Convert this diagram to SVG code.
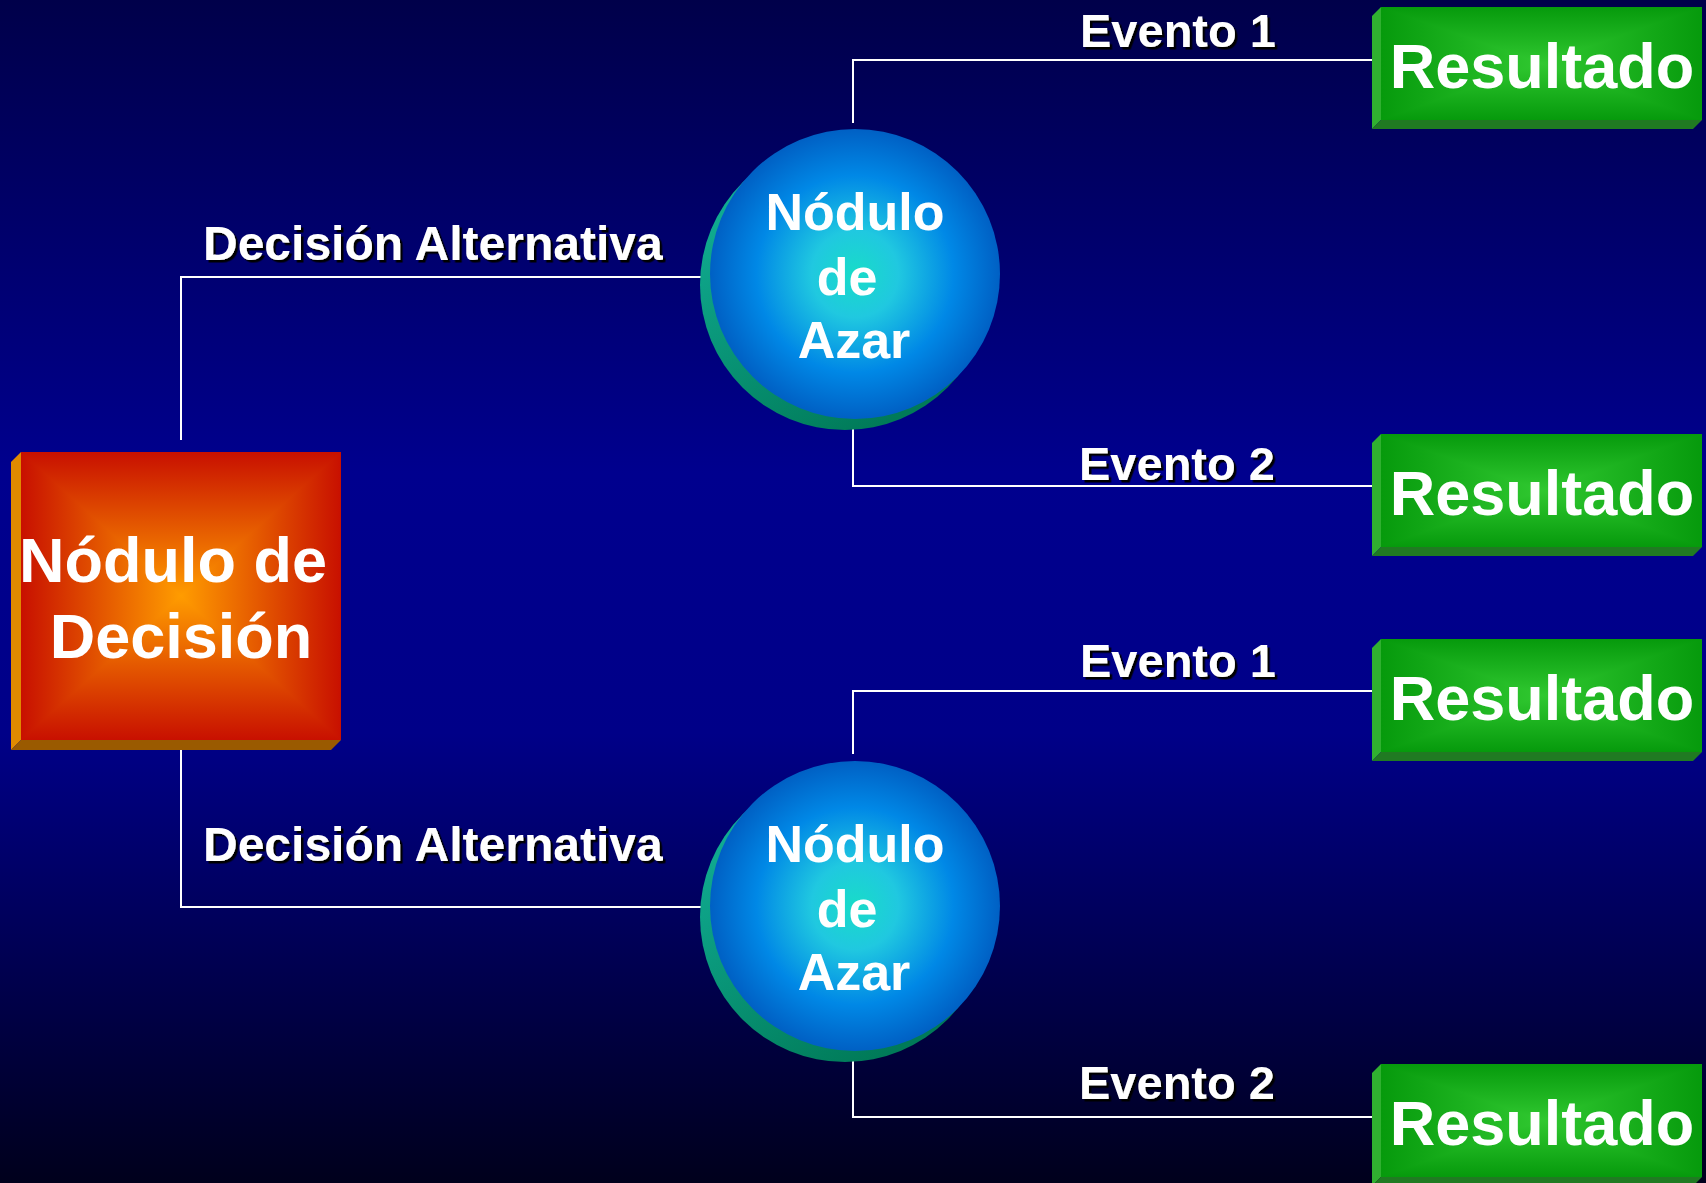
<svg xmlns="http://www.w3.org/2000/svg" width="1706" height="1183" viewBox="0 0 1706 1183">
<defs>
<linearGradient id="bg" x1="0" y1="0" x2="0" y2="1">
<stop offset="0" stop-color="#00004a"/>
<stop offset="0.4" stop-color="#00008e"/>
<stop offset="0.62" stop-color="#000088"/>
<stop offset="1" stop-color="#00001c"/>
</linearGradient>
<linearGradient id="dT" gradientUnits="userSpaceOnUse" x1="0" y1="452" x2="0" y2="596"><stop offset="0" stop-color="#c81000"/><stop offset="1" stop-color="#ff9c00"/></linearGradient>
<linearGradient id="dB" gradientUnits="userSpaceOnUse" x1="0" y1="740" x2="0" y2="596"><stop offset="0" stop-color="#c81000"/><stop offset="1" stop-color="#ff9c00"/></linearGradient>
<linearGradient id="dL" gradientUnits="userSpaceOnUse" x1="21" y1="0" x2="181" y2="0"><stop offset="0" stop-color="#c81000"/><stop offset="1" stop-color="#ff9c00"/></linearGradient>
<linearGradient id="dR" gradientUnits="userSpaceOnUse" x1="341" y1="0" x2="181" y2="0"><stop offset="0" stop-color="#c81000"/><stop offset="1" stop-color="#ff9c00"/></linearGradient>
<linearGradient id="gV" x1="0" y1="0" x2="0" y2="1"><stop offset="0" stop-color="#069a0c"/><stop offset="1" stop-color="#30c830"/></linearGradient>
<linearGradient id="gV2" x1="0" y1="1" x2="0" y2="0"><stop offset="0" stop-color="#069a0c"/><stop offset="1" stop-color="#30c830"/></linearGradient>
<linearGradient id="gH" x1="0" y1="0" x2="1" y2="0"><stop offset="0" stop-color="#069a0c"/><stop offset="1" stop-color="#30c830"/></linearGradient>
<linearGradient id="gH2" x1="1" y1="0" x2="0" y2="0"><stop offset="0" stop-color="#069a0c"/><stop offset="1" stop-color="#30c830"/></linearGradient>
<radialGradient id="ball" cx="0.5" cy="0.5" r="0.5">
<stop offset="0" stop-color="#18dcc8"/>
<stop offset="0.3" stop-color="#20c8e0"/>
<stop offset="0.68" stop-color="#0088e6"/>
<stop offset="1" stop-color="#0060c4"/>
</radialGradient>
<linearGradient id="shade" x1="0" y1="0" x2="0.6" y2="1"><stop offset="0" stop-color="#14b8a0"/><stop offset="1" stop-color="#007a58"/></linearGradient>
<filter id="sh" x="-5%" y="-20%" width="110%" height="140%">
<feDropShadow dx="2.5" dy="2.5" stdDeviation="0.3" flood-color="#000" flood-opacity="1"/>
</filter>
</defs>
<style>
.t{font-family:"Liberation Sans",Arial,sans-serif;font-weight:bold;fill:#fff}
.lbl{font-size:48px;filter:url(#sh)}
.ev{font-size:47px;filter:url(#sh)}
.res{font-size:63px;text-anchor:middle}
.dec{font-size:63px;text-anchor:middle}
.az{font-size:52px;text-anchor:middle}
.ln{fill:none;stroke:#fff;stroke-width:2}
.bl{fill:#30b030}
.bb{fill:#207a22}
.gbase{fill:#1aae1c}
.tri{shape-rendering:crispEdges}
</style>
<rect width="1706" height="1183" fill="url(#bg)"/>

<g id="connectors">
<path class="ln" d="M181,440 V277 H709"/>
<path class="ln" d="M181,740 V907 H709"/>
<path class="ln" d="M853,123 V60 H1381"/>
<path class="ln" d="M853,422 V486 H1381"/>
<path class="ln" d="M853,754 V691 H1381"/>
<path class="ln" d="M853,1053 V1117 H1381"/>
</g>

<g id="labels">
<text class="t lbl" x="203" y="260">Decisión Alternativa</text>
<text class="t lbl" x="203" y="861">Decisión Alternativa</text>
<text class="t ev" x="1080" y="47">Evento 1</text>
<text class="t ev" x="1079" y="480">Evento 2</text>
<text class="t ev" x="1080" y="677">Evento 1</text>
<text class="t ev" x="1079" y="1099">Evento 2</text>
</g>

<g id="decision">
<polygon points="11,462 21,452 21,740 11,750" fill="#e08a00"/>
<polygon points="11,750 21,740 341,740 331,750" fill="#9a5a00"/>
<rect x="21" y="452" width="320" height="288" fill="#e25a00"/>
<polygon class="tri" points="21,452 341,452 181,596" fill="url(#dT)"/>
<polygon class="tri" points="21,740 341,740 181,596" fill="url(#dB)"/>
<polygon class="tri" points="21,452 21,740 181,596" fill="url(#dL)"/>
<polygon class="tri" points="341,452 341,740 181,596" fill="url(#dR)"/>
<text class="t dec" x="173" y="582">Nódulo de</text>
<text class="t dec" x="181" y="658">Decisión</text>
</g>

<g id="chance1">
<circle cx="845" cy="285" r="145" fill="url(#shade)"/>
<circle cx="855" cy="274" r="145" fill="url(#ball)"/>
<text class="t az" x="855" y="230">Nódulo</text>
<text class="t az" x="847" y="295">de</text>
<text class="t az" x="854" y="358">Azar</text>
</g>

<g id="chance2">
<circle cx="845" cy="917" r="145" fill="url(#shade)"/>
<circle cx="855" cy="906" r="145" fill="url(#ball)"/>
<text class="t az" x="855" y="862">Nódulo</text>
<text class="t az" x="847" y="927">de</text>
<text class="t az" x="854" y="990">Azar</text>
</g>

<g id="result1" transform="translate(0,7)">
<polygon class="bl" points="1372,9 1381,0 1381,113 1372,122"/>
<polygon class="bb" points="1372,122 1381,113 1702,113 1693,122"/>
<rect class="gbase" x="1381" y="0" width="321" height="113"/>
<polygon class="tri" points="1381,0 1702,0 1541.5,56.5" fill="url(#gV)"/>
<polygon class="tri" points="1381,113 1702,113 1541.5,56.5" fill="url(#gV2)"/>
<polygon class="tri" points="1381,0 1381,113 1541.5,56.5" fill="url(#gH)"/>
<polygon class="tri" points="1702,0 1702,113 1541.5,56.5" fill="url(#gH2)"/>
<text class="t res" x="1542" y="81">Resultado</text>
</g>

<g id="result2" transform="translate(0,434)">
<polygon class="bl" points="1372,9 1381,0 1381,113 1372,122"/>
<polygon class="bb" points="1372,122 1381,113 1702,113 1693,122"/>
<rect class="gbase" x="1381" y="0" width="321" height="113"/>
<polygon class="tri" points="1381,0 1702,0 1541.5,56.5" fill="url(#gV)"/>
<polygon class="tri" points="1381,113 1702,113 1541.5,56.5" fill="url(#gV2)"/>
<polygon class="tri" points="1381,0 1381,113 1541.5,56.5" fill="url(#gH)"/>
<polygon class="tri" points="1702,0 1702,113 1541.5,56.5" fill="url(#gH2)"/>
<text class="t res" x="1542" y="81">Resultado</text>
</g>

<g id="result3" transform="translate(0,639)">
<polygon class="bl" points="1372,9 1381,0 1381,113 1372,122"/>
<polygon class="bb" points="1372,122 1381,113 1702,113 1693,122"/>
<rect class="gbase" x="1381" y="0" width="321" height="113"/>
<polygon class="tri" points="1381,0 1702,0 1541.5,56.5" fill="url(#gV)"/>
<polygon class="tri" points="1381,113 1702,113 1541.5,56.5" fill="url(#gV2)"/>
<polygon class="tri" points="1381,0 1381,113 1541.5,56.5" fill="url(#gH)"/>
<polygon class="tri" points="1702,0 1702,113 1541.5,56.5" fill="url(#gH2)"/>
<text class="t res" x="1542" y="81">Resultado</text>
</g>

<g id="result4" transform="translate(0,1064)">
<polygon class="bl" points="1372,9 1381,0 1381,113 1372,122"/>
<polygon class="bb" points="1372,122 1381,113 1702,113 1693,122"/>
<rect class="gbase" x="1381" y="0" width="321" height="113"/>
<polygon class="tri" points="1381,0 1702,0 1541.5,56.5" fill="url(#gV)"/>
<polygon class="tri" points="1381,113 1702,113 1541.5,56.5" fill="url(#gV2)"/>
<polygon class="tri" points="1381,0 1381,113 1541.5,56.5" fill="url(#gH)"/>
<polygon class="tri" points="1702,0 1702,113 1541.5,56.5" fill="url(#gH2)"/>
<text class="t res" x="1542" y="81">Resultado</text>
</g>
</svg>
